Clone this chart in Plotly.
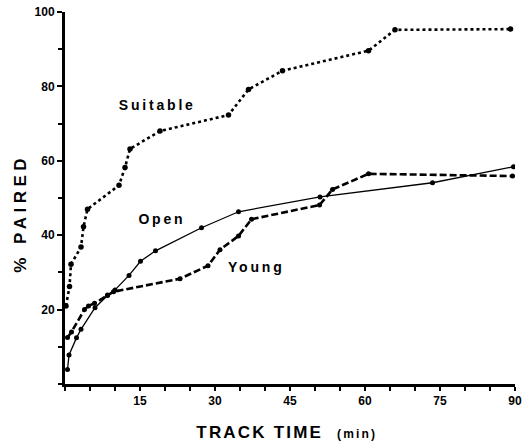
import plotly.graph_objects as go

# ---- data ----
suitable_x = [0.2, 0.9, 1.2, 3.2, 3.7, 4.5, 10.8, 12.0, 13.0, 19.0, 32.7, 36.7, 43.5, 60.7, 66.0, 89.1]
suitable_y = [21.0, 26.2, 32.2, 36.8, 42.3, 47.0, 53.4, 58.2, 63.2, 68.0, 72.3, 79.2, 84.2, 89.6, 95.2, 95.4]

open_x = [0.5, 0.8, 2.3, 3.2, 6.0, 8.5, 10.0, 12.8, 15.1, 18.1, 27.3, 34.7, 51.0, 73.5, 89.7]
open_y = [3.9, 7.8, 12.4, 14.7, 20.5, 23.8, 25.3, 29.2, 33.0, 35.8, 42.0, 46.3, 50.3, 54.1, 58.4]

young_x = [0.5, 1.3, 3.9, 4.7, 5.9, 8.5, 9.7, 23.0, 28.6, 31.0, 34.7, 37.3, 50.9, 53.5, 60.7, 89.5]
young_y = [12.5, 14.0, 20.0, 21.0, 21.7, 23.9, 24.8, 28.3, 31.8, 36.1, 39.8, 44.3, 48.1, 52.3, 56.5, 55.9]

x_ticks = [15, 30, 45, 60, 75, 90]
y_ticks = [20, 40, 60, 80, 100]

labels = ["Suitable", "Open", "Young"]
label_x = [18.5, 19.3, 38.3]
label_y = [75.0, 44.3, 31.5]

FONT = "Liberation Sans, Arial, Helvetica, sans-serif"

fig = go.Figure()
fig.add_trace(go.Scatter(
    x=suitable_x, y=suitable_y, mode="lines+markers",
    line=dict(color="black", width=2.6, dash="dot"),
    marker=dict(color="black", size=5.5), name="Suitable", showlegend=False))
fig.add_trace(go.Scatter(
    x=open_x, y=open_y, mode="lines+markers",
    line=dict(color="black", width=1.3),
    marker=dict(color="black", size=5), name="Open", showlegend=False))
fig.add_trace(go.Scatter(
    x=young_x, y=young_y, mode="lines+markers",
    line=dict(color="black", width=2.6, dash="7px,3px"),
    marker=dict(color="black", size=5), name="Young", showlegend=False))

for t, lx, ly in zip(labels, label_x, label_y):
    fig.add_annotation(x=lx, y=ly, xref="x", yref="y", text=t, showarrow=False,
                       font=dict(family=FONT, size=14, color="black", weight="bold"),
                       xanchor="center", yanchor="middle")

fig.add_annotation(x=-0.098, y=0.46, xref="paper", yref="paper", text="% PAIRED",
                   textangle=-90, showarrow=False,
                   font=dict(family=FONT, size=17, color="black", weight="bold"),
                   xanchor="center", yanchor="middle")
fig.add_annotation(x=0.494, y=-0.13, xref="paper", yref="paper",
                   text="TRACK TIME  <span style='font-size:12px'>(min)</span>",
                   showarrow=False,
                   font=dict(family=FONT, size=17, color="black", weight="bold"),
                   xanchor="center", yanchor="middle")

tickfont = dict(family=FONT, size=12, color="black", weight="bold")
fig.update_xaxes(range=[0, 90], showline=True, linecolor="black", linewidth=3,
                 automargin=False,
                 showgrid=False, zeroline=False, ticks="outside", ticklen=4, tickwidth=1.5,
                 tickcolor="black", tickvals=x_ticks, ticktext=[str(v) for v in x_ticks],
                 tickfont=tickfont,
                 minor=dict(ticks="outside", dtick=5, tick0=0, ticklen=4, tickwidth=1.5,
                            tickcolor="black", showgrid=False))
fig.update_yaxes(range=[0, 100], showline=True, linecolor="black", linewidth=3,
                 automargin=False,
                 showgrid=False, zeroline=False, ticks="outside", ticklen=5, tickwidth=1.5,
                 tickcolor="black", tickvals=y_ticks, ticktext=[str(v) for v in y_ticks],
                 tickfont=tickfont,
                 minor=dict(ticks="outside", dtick=10, tick0=0, ticklen=4, tickwidth=1.5,
                            tickcolor="black", showgrid=False))

fig.update_layout(template="none", width=528, height=444,
                  margin=dict(l=65, r=13, t=12, b=60, autoexpand=False),
                  plot_bgcolor="white", paper_bgcolor="white", showlegend=False)

post = """
document.body.style.margin = '0px';
document.body.style.padding = '0px';
var gd = document.getElementById('{plot_id}');
function spacing(){
  gd.querySelectorAll('text.annotation-text').forEach(function(t){
    var s = t.textContent;
    if (s.indexOf('TRACK') === 0) { t.style.letterSpacing = '2.2px'; }
    else if (s.indexOf('PAIRED') >= 0) { t.style.letterSpacing = '4.5px'; }
    else { t.style.letterSpacing = '2.8px'; }
  });
}
spacing();
gd.on('plotly_afterplot', spacing);
"""
fig.write_html("out.html", post_script=post, config={"displayModeBar": False})
